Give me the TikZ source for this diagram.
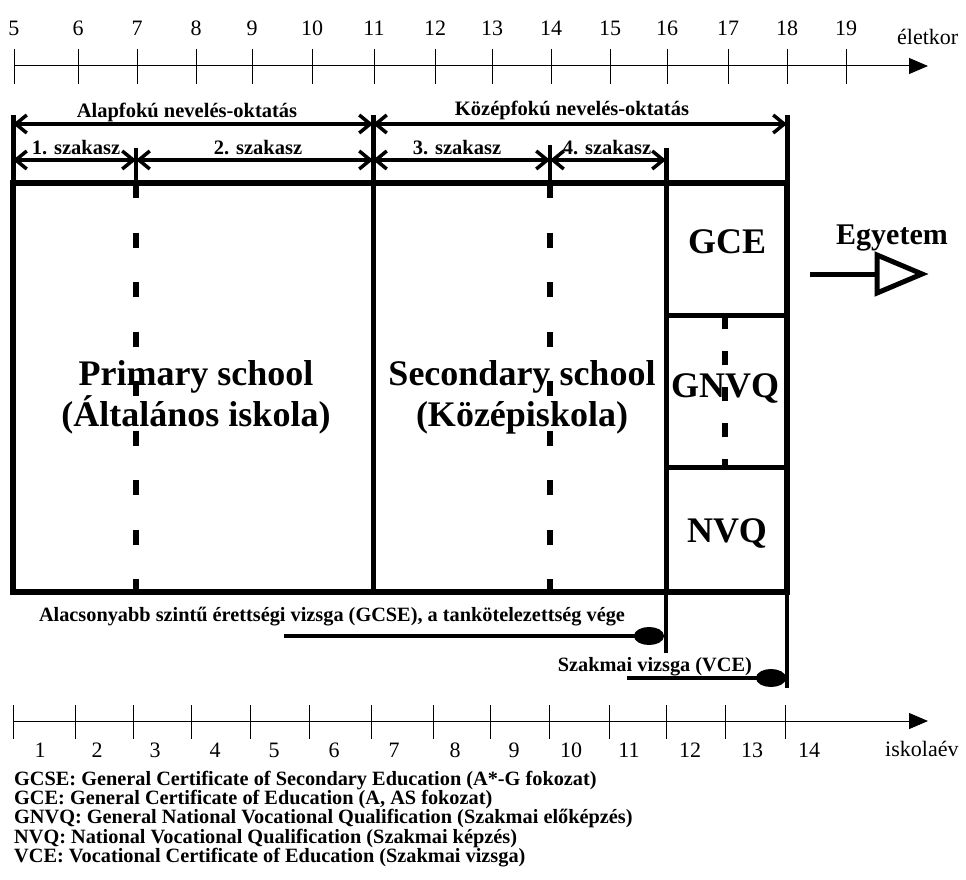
\documentclass[tikz,border=0pt]{standalone}
\usepackage{fontspec}
\setmainfont{Liberation Serif}
\usetikzlibrary{arrows.meta}
\begin{document}
\begin{tikzpicture}[x=1pt,y=-1pt,line join=round,
	lbl/.style={font=\bfseries\fontsize{20.5}{20.5}\selectfont,inner sep=0pt},
	leg/.style={font=\bfseries\fontsize{20.3}{20.3}\selectfont,inner sep=0pt},
	big/.style={font=\bfseries\fontsize{36}{36}\selectfont,inner sep=0pt},
	num/.style={font=\fontsize{22}{22}\selectfont,inner sep=0pt},
	brk/.style={line width=3.5pt,{Straight Barb[length=11pt,width=18pt]}-{Straight Barb[length=11pt,width=18pt]}},
	exam/.style={line width=3.5pt,-{Ellipse[length=30pt,width=18pt]}},
	ax/.style={line width=1pt,-{Triangle[length=19pt,width=16pt]}}]
	\useasboundingbox (0,0) rectangle (966,880);
	\path
	(13,183) coordinate (A)
	(787,592) coordinate (B)
	(13,115) coordinate (L)
	(136,148) coordinate (P7) (136,183) coordinate (Q7) (136,592) coordinate (R7)
	(373,115) coordinate (P11) (373,592) coordinate (R11)
	(550,145) coordinate (P14) (550,183) coordinate (Q14) (550,592) coordinate (R14)
	(666,148) coordinate (P16) (666,653) coordinate (R16)
	(787,115) coordinate (P18) (787,688) coordinate (R18)
	(666,315) coordinate (G1) (787,315) coordinate (G2)
	(666,467) coordinate (N1) (787,467) coordinate (N2)
	(725,315) coordinate (D1) (725,467) coordinate (D2)
	(14,66) coordinate (ta) (928,66) coordinate (tb)
	(13,721) coordinate (ba) (928,721) coordinate (bb)
	(284,636) coordinate (g1) (664,636) coordinate (g2)
	(627,678) coordinate (v1) (786,678) coordinate (v2)
	(810,274) coordinate (e1) (877,274) coordinate (e2)
	(877,255) coordinate (e3) (922,274) coordinate (e4) (877,293) coordinate (e5)
	;
	\draw[ax] (ta)--(tb);
	\draw[ax] (ba)--(bb);
	\foreach \x/\n in {14/5,78/6,137/7,196/8,252/9,312/10,374/11,435/12,492/13,551/14,610/15,667/16,728/17,787/18,846/19}
	{\draw[line width=1pt] (\x,49)--(\x,84); \node[num] (age\n) at (\x,28) {\n};}
	\foreach \x in {13,75,133,191,250,309,371,433,490,549,609,666,725,785}
	\draw[line width=1pt] (\x,705)--(\x,739);
	\foreach \x/\n in {40/1,97/2,155/3,215/4,274/5,334/6,394/7,455/8,514/9,571/10,629/11,690/12,752/13,809/14}
	\node[num] (ev\n) at (\x,750) {\n};
	\node[num,anchor=west] (eletkor) at (897,37) {életkor};
	\node[num,anchor=west] (iskolaev) at (885,749) {iskolaév};
	\draw[line width=6.5pt,line join=miter] (A) rectangle (B);
	\draw[line width=5pt] (L)--(A) (P11)--(R11) (G1)--(G2) (N1)--(N2);
	\draw[line width=4pt] (P7)--(Q7) (P14)--(Q14) (P16)--(R16) (P18)--(R18);
	\draw[line width=5pt] (P16)--(666,592) (P18)--(B);
	\draw[line width=6pt,dash pattern=on 15pt off 34.5pt] (Q7)--(R7) (Q14)--(R14);
	\draw[line width=6pt,dash pattern=on 14pt off 22pt] (D1)--(D2);
	\draw[brk] (13,124)--(373,124);
	\draw[brk] (373,124)--(787,124);
	\draw[brk] (13,160)--(136,160);
	\draw[brk] (136,160)--(373,160);
	\draw[brk] (373,160)--(550,160);
	\draw[brk] (550,160)--(666,160);
	\node[lbl,anchor=base] (alap) at (187,118) {Alapfokú nevelés-oktatás};
	\node[lbl,anchor=base] (kozep) at (572,116) {Középfokú nevelés-oktatás};
	\foreach \x/\n in {76/1,258/2,457/3,607/4}
	\node[lbl,anchor=base] (sz\n) at (\x,154) {\n. szakasz};
	\node[big,anchor=base] (prim1) at (196,385) {Primary school};
	\node[big,anchor=base] (prim2) at (196,426) {(Általános iskola)};
	\node[big,anchor=base] (sec1) at (522,385) {Secondary school};
	\node[big,anchor=base] (sec2) at (522,426) {(Középiskola)};
	\node[big] (gce) at (727,242) {GCE};
	\node[big] (gnvq) at (725,388) {GNVQ};
	\node[big] (nvq) at (727,533) {NVQ};
	\node[big,font=\bfseries\fontsize{30}{30}\selectfont] (egy) at (892,238) {Egyetem};
	\draw[line width=5pt] (e1)--(e2);
	\draw[line width=5pt,line join=miter] (e3)--(e4)--(e5)--cycle;
	\draw[exam] (g1)--(g2);
	\draw[exam] (v1)--(v2);
	\node[leg,anchor=base] (gcsevizsga) at (332,621) {Alacsonyabb szintű érettségi vizsga (GCSE), a tankötelezettség vége};
	\node[leg,anchor=base east] (vce) at (752,671) {Szakmai vizsga (VCE)};
	\foreach \y/\t [count=\i] in {785/{GCSE: General Certificate of Secondary Education (A*-G fokozat)},804/{GCE: General Certificate of Education (A, AS fokozat)},823/{GNVQ: General National Vocational Qualification (Szakmai előképzés)},843/{NVQ: National Vocational Qualification (Szakmai képzés)},862/{VCE: Vocational Certificate of Education (Szakmai vizsga)}}
	\node[leg,anchor=base west] (leg\i) at (14,\y) {\t};
\end{tikzpicture}
\end{document}
